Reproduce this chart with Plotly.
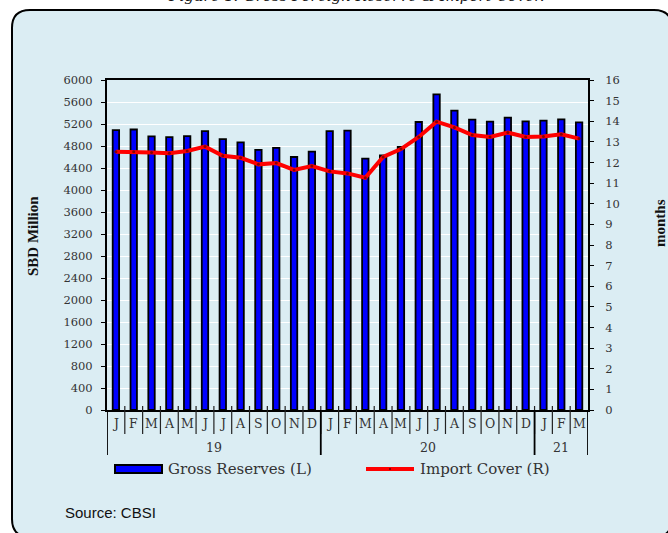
import plotly.graph_objects as go

# ---------------- data ----------------
months = ["J", "F", "M", "A", "M", "J", "J", "A", "S", "O", "N", "D",
          "J", "F", "M", "A", "M", "J", "J", "A", "S", "O", "N", "D",
          "J", "F", "M"]
years = ["19", "20", "21"]
year_counts = [12, 12, 3]
reserves = [5090, 5100, 4975, 4960, 4980, 5070, 4925, 4865, 4730, 4765, 4600, 4697,
            5072, 5080, 4570, 4630, 4782, 5236, 5740, 5442, 5279, 5242, 5315, 5248,
            5260, 5285, 5230]
cover = [12.52, 12.52, 12.48, 12.45, 12.56, 12.77, 12.33, 12.23, 11.91, 11.97, 11.64, 11.83,
         11.57, 11.47, 11.26, 12.27, 12.65, 13.24, 13.98, 13.70, 13.33, 13.24, 13.45, 13.24,
         13.26, 13.37, 13.16]

# ---------------- layout geometry ----------------
W, H = 668, 533
L, R, T, B = 107, 80, 80, 123
PW, PH = W - L - R, H - T - B
BG = "#DBEDF3"


def px(xp):
    return (xp - L) / PW


def py(yp):
    return (H - B - yp) / PH


idx = list(range(len(months)))

fig = go.Figure()
fig.add_trace(go.Bar(
    x=idx, y=reserves, name="Gross Reserves (L)", width=0.36,
    marker=dict(color="#0000FF", line=dict(color="black", width=1.8)),
    showlegend=False,
))
fig.add_trace(go.Scatter(
    x=idx, y=cover, name="Import Cover (R)", yaxis="y2", mode="lines+markers",
    line=dict(color="#FF0000", width=4),
    marker=dict(size=3, color="#8B0000"),
    showlegend=False,
))

shapes = []
# card background
x0, x1, y0, y1, r = 12, 672, 10, 537, 18
pts = [
    ("M", [(x0 + r, y0)]), ("L", [(x1 - r, y0)]), ("Q", [(x1, y0), (x1, y0 + r)]),
    ("L", [(x1, y1 - r)]), ("Q", [(x1, y1), (x1 - r, y1)]),
    ("L", [(x0 + r, y1)]), ("Q", [(x0, y1), (x0, y1 - r)]),
    ("L", [(x0, y0 + r)]), ("Q", [(x0, y0), (x0 + r, y0)]),
]
path = ""
for cmd, ps in pts:
    path += cmd + " " + " ".join(f"{px(a):.5f},{py(b):.5f}" for a, b in ps) + " "
path += "Z"
shapes.append(dict(type="path", xref="paper", yref="paper", path=path,
                   fillcolor=BG, line=dict(color="black", width=2), layer="below"))

# month separators
for i in range(1, len(months)):
    shapes.append(dict(type="line", xref="x", yref="paper", x0=i - 0.5, x1=i - 0.5,
                       y0=py(406), y1=py(434), line=dict(color="#222", width=1.2)))
# year separators
b = -0.5
bounds = [b]
for c in year_counts:
    b += c
    bounds.append(b)
for bb in bounds:
    shapes.append(dict(type="line", xref="x", yref="paper", x0=bb, x1=bb,
                       y0=py(410), y1=py(455), line=dict(color="black", width=1.8)))

# legend symbols
shapes.append(dict(type="rect", xref="paper", yref="paper", x0=px(115), x1=px(162),
                   y0=py(473), y1=py(465), fillcolor="#0000FF",
                   line=dict(color="black", width=2)))
shapes.append(dict(type="line", xref="paper", yref="paper", x0=px(366), x1=px(414),
                   y0=py(469), y1=py(469), line=dict(color="#FF0000", width=4)))
shapes.append(dict(type="rect", xref="paper", yref="paper", x0=px(389), x1=px(391),
                   y0=py(470), y1=py(468), fillcolor="#8B0000", line=dict(width=0)))

annotations = []
lab_font = dict(family="DejaVu Serif", size=12.5, color="#333")
for i, m in enumerate(months):
    annotations.append(dict(x=i, y=py(423), xref="x", yref="paper", text=m,
                            xanchor="center", yanchor="middle",
                            showarrow=False, font=lab_font))
start = 0
for yl, c in zip(years, year_counts):
    annotations.append(dict(x=start + (c - 1) / 2, y=py(447), xref="x", yref="paper", text=yl,
                            xanchor="center", yanchor="middle",
                            showarrow=False, font=lab_font))
    start += c

annotations += [
    dict(x=px(166), y=py(469), xref="paper", yref="paper", text="Gross Reserves (L)",
         xanchor="left", yanchor="middle", showarrow=False,
         font=dict(family="DejaVu Serif", size=15, color="#333")),
    dict(x=px(418), y=py(469), xref="paper", yref="paper", text="Import Cover (R)",
         xanchor="left", yanchor="middle", showarrow=False,
         font=dict(family="DejaVu Serif", size=15, color="#333")),
    dict(x=px(63), y=py(512), xref="paper", yref="paper", text="Source: CBSI",
         xanchor="left", yanchor="middle", showarrow=False,
         font=dict(family="Liberation Sans", size=15, color="#111")),
    dict(x=px(33), y=py(236), xref="paper", yref="paper", text="<b>SBD Million</b>",
         xanchor="center", yanchor="middle",
         textangle=-90, showarrow=False, font=dict(family="Liberation Serif", size=15, color="#111")),
    dict(x=px(660), y=py(223), xref="paper", yref="paper", text="<b>months</b>",
         xanchor="center", yanchor="middle",
         textangle=-90, showarrow=False, font=dict(family="Liberation Serif", size=15, color="#111")),
    dict(x=px(356), y=py(7), xref="paper", yref="paper",
         text="<i>Figure 1: Gross Foreign Reserve &amp; Import Cover.</i>",
         xanchor="center", yanchor="bottom", showarrow=False,
         font=dict(family="DejaVu Serif", size=15, color="#111")),
]

fig.update_layout(
    width=W, height=H, autosize=False,
    margin=dict(l=L, r=R, t=T, b=B, pad=0),
    paper_bgcolor="white", plot_bgcolor="rgba(0,0,0,0)",
    bargap=0.5,
    shapes=shapes, annotations=annotations,
    xaxis=dict(range=[-0.5, len(months) - 0.5], showticklabels=False, ticks="",
               showgrid=False, zeroline=False, showline=True, linecolor="black",
               linewidth=2, mirror=True, fixedrange=True),
    yaxis=dict(range=[0, 6000], dtick=400, tick0=0, ticks="outside", ticklen=4,
               tickcolor="black", showline=True, linecolor="black", linewidth=2,
               showgrid=True, gridcolor="white", gridwidth=1, zeroline=False,
               ticklabelstandoff=6,
               tickfont=dict(family="DejaVu Serif", size=11.5, color="#333")),
    yaxis2=dict(range=[0, 16], dtick=1, tick0=0, overlaying="y", side="right",
                ticks="outside", ticklen=4, tickcolor="black", showline=True,
                linecolor="black", linewidth=2, showgrid=False, zeroline=False,
                ticklabelstandoff=9,
                tickfont=dict(family="DejaVu Serif", size=11.5, color="#333")),
)

fig.write_html("out.html")
